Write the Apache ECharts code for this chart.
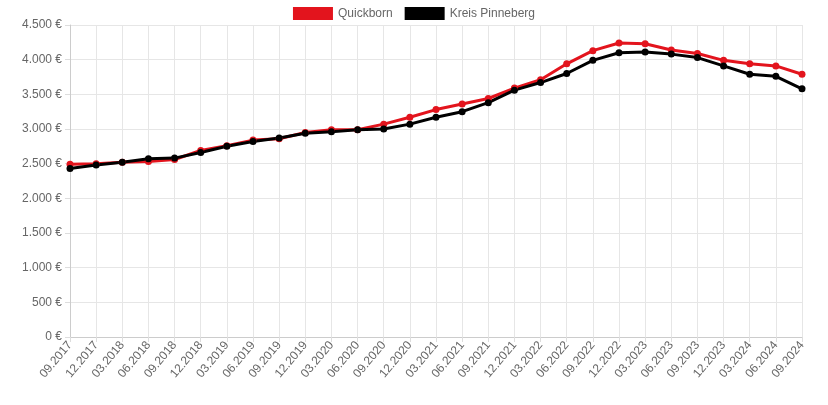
<!DOCTYPE html>
<html>
<head>
<meta charset="utf-8">
<script src="https://cdn.jsdelivr.net/npm/echarts@6/dist/echarts.min.js"></script>
<style>
  html, body { margin: 0; padding: 0; background: #fff; }
  #chart { width: 828px; height: 405px; }
</style>
</head>
<body>
<div id="chart"></div>
<script>
let quarters = [
  "09.2017", "12.2017", "03.2018", "06.2018", "09.2018", "12.2018",
  "03.2019", "06.2019", "09.2019", "12.2019", "03.2020", "06.2020",
  "09.2020", "12.2020", "03.2021", "06.2021", "09.2021", "12.2021",
  "03.2022", "06.2022", "09.2022", "12.2022", "03.2023", "06.2023",
  "09.2023", "12.2023", "03.2024", "06.2024", "09.2024"
];

let quickborn = [
  2490, 2500, 2520, 2530, 2560, 2690, 2760, 2840, 2860, 2950,
  2990, 2990, 3070, 3170, 3280, 3360, 3440, 3590, 3710, 3940,
  4130, 4240, 4230, 4140, 4090, 3990, 3940, 3910, 3790
];

let kreisPinneberg = [
  2430, 2480, 2520, 2570, 2580, 2660, 2750, 2820, 2870, 2940,
  2960, 2990, 3000, 3070, 3170, 3250, 3380, 3560, 3670, 3800,
  3990, 4100, 4110, 4080, 4030, 3910, 3790, 3760, 3580
];

let myChart = echarts.init(document.getElementById("chart"));

let makeSeries = function (name, data, color) {
  return {
    name: name,
    type: "line",
    data: data,
    symbol: "circle",
    symbolSize: 7,
    lineStyle: { width: 3, color: color },
    itemStyle: { color: color },
    animation: false,
  };
};

let option = {
  textStyle: { fontFamily: "Arial, 'Liberation Sans', sans-serif" },
  legend: {
    top: 2,
    left: "center",
    itemWidth: 40,
    itemHeight: 13,
    itemGap: 12,
    icon: "rect",
    textStyle: { color: "#666", fontSize: 12 },
    data: ["Quickborn", "Kreis Pinneberg"],
  },
  grid: { left: 70, right: 26, top: 25, bottom: 68 },
  xAxis: {
    type: "category",
    data: quarters,
    boundaryGap: false,
    axisLine: { lineStyle: { color: "#ccc" } },
    axisTick: { show: true, lineStyle: { color: "#ddd" } },
    axisLabel: { rotate: 50, color: "#666", fontSize: 12, interval: 0, margin: 6 },
    splitLine: { show: true, lineStyle: { color: "#e6e6e6" } },
  },
  yAxis: {
    type: "value",
    min: 0,
    max: 4500,
    interval: 500,
    axisLine: { show: true, lineStyle: { color: "#ccc" } },
    axisTick: { show: true, lineStyle: { color: "#ddd" } },
    axisLabel: {
      color: "#666",
      fontSize: 12,
      formatter: function (v) {
        return v.toString().replace(/\B(?=(\d{3})+(?!\d))/g, ".") + " €";
      },
    },
    splitLine: { lineStyle: { color: "#e6e6e6" } },
  },
  series: [
    makeSeries("Quickborn", quickborn, "#e3141d"),
    makeSeries("Kreis Pinneberg", kreisPinneberg, "#000000"),
  ],
};

myChart.setOption(option);
</script>
</body>
</html>
